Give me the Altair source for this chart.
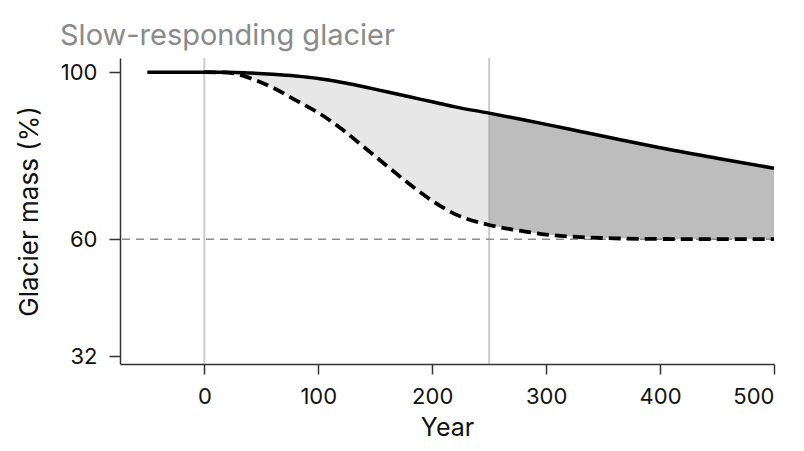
import altair as alt
import pandas as pd

# values
years = [-50, 0, 20, 40, 60, 80, 100, 120, 140, 160, 180, 200, 220, 250,
         280, 300, 330, 360, 400, 450, 500]
slow_mass = [100, 100, 100, 99.8, 99.5, 99.1, 98.5, 97.6, 96.5, 95.3, 94.1,
             92.9, 91.7, 90.2, 88.6, 87.5, 85.8, 84.1, 81.9, 79.4, 77.0]
eq_mass = [100, 100, 99.9, 98.6, 96.3, 93.3, 90.3, 86.5, 82.1, 77.6, 73.2,
           69.2, 66.0, 63.4, 61.9, 61.1, 60.5, 60.2, 60.05, 60.0, 60.0]
marker_years = [0, 250]
equilibrium = [60]
y_ticks = [32, 60, 100]
x_ticks = [0, 100, 200, 300, 400, 500]

df = pd.DataFrame({"year": years, "slow": slow_mass, "eq": eq_mass})
df_early = df[(df["year"] >= 0) & (df["year"] <= 250)]
df_late = df[df["year"] >= 250]

x_scale = alt.Scale(domain=[-74, 500], nice=False, zero=False)
y_scale = alt.Scale(domain=[30.1, 103.4], nice=False, zero=False)

x_enc = alt.X("year:Q", scale=x_scale, axis=alt.Axis(
    values=x_ticks, title="Year", grid=False, tickSize=10, labelPadding=12,
    titlePadding=8, titleFontSize=25))
y_enc = alt.Y("slow:Q", scale=y_scale, axis=alt.Axis(
    values=y_ticks, title="Glacier mass (%)", grid=False, tickSize=11,
    labelPadding=12, titlePadding=18, titleFontSize=26))

fill_early = alt.Chart(df_early).mark_area(
    color="#e7e7e7", interpolate="monotone").encode(x=x_enc, y=y_enc, y2="eq:Q")
fill_late = alt.Chart(df_late).mark_area(
    color="#bdbdbd", interpolate="monotone").encode(x=x_enc, y=y_enc, y2="eq:Q")

rules = alt.Chart(pd.DataFrame({"year": marker_years})).mark_rule(
    color="#999999", opacity=0.5, strokeWidth=2).encode(x="year:Q")

eq_rule = alt.Chart(pd.DataFrame({"v": equilibrium})).mark_rule(
    color="#8c8c8c", strokeWidth=1.6, strokeDash=[8, 6]).encode(y="v:Q")

slow_line = alt.Chart(df).mark_line(
    color="black", strokeWidth=3.5, interpolate="monotone").encode(x=x_enc, y=y_enc)
eq_line = alt.Chart(df[df["year"] >= 0]).mark_line(
    color="black", strokeWidth=3.8, strokeDash=[12, 6],
    interpolate="monotone").encode(x=x_enc, y=alt.Y("eq:Q", scale=y_scale))

chart = alt.layer(fill_early, fill_late, rules, eq_rule, eq_line, slow_line).properties(
    width=654,
    height=306,
    autosize="none",
    padding={"left": 112, "top": 50, "right": 22, "bottom": 79},
    title=alt.Title("Slow-responding glacier", anchor="start", frame="group",
                    dx=-60, offset=6, color="#8a8a8a", fontSize=29,
                    fontWeight="normal"),
).configure(
    font="Inter"
).configure_axis(
    labelFontSize=22,
    titleFontWeight="normal",
    labelColor="#111111",
    titleColor="#111111",
    domainColor="#333333",
    domainWidth=1.5,
    tickColor="#333333",
    tickWidth=1.5,
).configure_view(stroke=None)

chart.save("out.html", embed_options={"renderer": "svg", "actions": False})
